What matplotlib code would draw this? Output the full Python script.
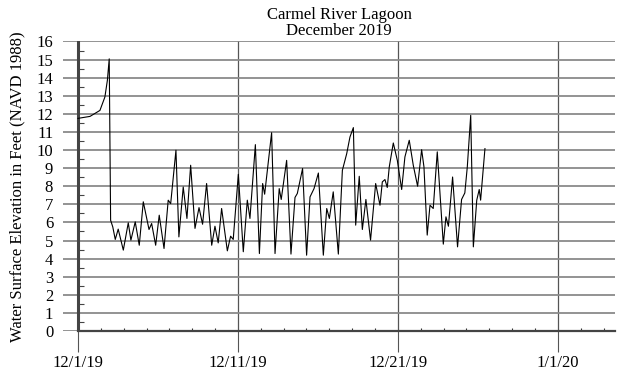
import numpy as np
import matplotlib.pyplot as plt
from matplotlib.ticker import MultipleLocator

plt.rcParams['font.family'] = ['Liberation Serif', 'DejaVu Serif']

# days since 12/1/19 and water surface elevation (ft, NAVD 1988)
days = [0.0, 0.78, 1.42, 1.74, 1.9, 2.02, 2.11, 2.25, 2.41, 2.6, 2.93, 3.25, 3.42, 3.7,
        3.96, 4.22, 4.59, 4.76, 5.02, 5.25, 5.56, 5.83, 5.99, 6.33, 6.52, 6.8, 7.04,
        7.28, 7.56, 7.82, 8.05, 8.31, 8.64, 8.85, 9.06, 9.28, 9.65, 9.86, 10.03,
        10.36, 10.68, 10.94, 11.11, 11.46, 11.72, 11.93, 12.06, 12.51, 12.73, 13.0,
        13.13, 13.48, 13.76, 14.02, 14.17, 14.51, 14.77, 14.99, 15.25, 15.53, 15.85,
        16.07, 16.24, 16.49, 16.82, 17.08, 17.36, 17.57, 17.79, 17.94, 18.17, 18.37,
        18.6, 18.9, 19.23, 19.51, 19.66, 19.83, 19.98, 20.11, 20.37, 20.63, 20.91,
        21.12, 21.4, 21.66, 21.94, 22.2, 22.35, 22.56, 22.74, 22.95, 23.21, 23.6,
        23.77, 23.93, 24.2, 24.52, 24.78, 24.99, 25.15, 25.37, 25.54, 25.76, 25.92,
        26.01, 26.29]
elev = [11.75, 11.86, 12.19, 12.93, 13.85, 15.04, 6.12, 5.75, 5.06, 5.63, 4.47, 5.98,
        5.02, 6.03, 4.74, 7.14, 5.61, 5.94, 4.74, 6.4, 4.56, 7.23, 7.04, 9.99, 5.2,
        7.96, 6.22, 9.16, 5.67, 6.82, 5.9, 8.15, 4.74, 5.79, 4.87, 6.77, 4.43, 5.24,
        5.06, 8.66, 4.38, 7.23, 6.22, 10.3, 4.28, 8.15, 7.56, 10.96, 4.28, 7.87, 7.27,
        9.43, 4.25, 7.38, 7.6, 8.98, 4.19, 7.41, 7.87, 8.73, 4.19, 6.77, 6.22, 7.69,
        4.25, 8.88, 9.8, 10.72, 11.24, 5.85, 8.55, 5.61, 7.27, 5.02, 8.15, 6.95, 8.24,
        8.37, 7.93, 9.07, 10.39, 9.43, 7.82, 9.62, 10.54, 9.16, 8.0, 10.02, 9.07, 5.3,
        6.95, 6.77, 9.9, 4.8, 6.31, 5.79, 8.51, 4.65, 7.27, 7.63, 9.07, 11.92, 4.65,
        7.23, 7.82, 7.23, 10.08]

tick_pos = [0, 31 / 3, 62 / 3, 31]
tick_labels = ['12/1/19', '12/11/19', '12/21/19', '1/1/20']

fig = plt.figure(figsize=(6.17, 3.77), dpi=100)
ax = fig.add_axes([0.102, 0.122, 0.895, 0.768])

ax.plot(days, elev, color='black', lw=0.8, zorder=3)

ax.set_xlim(-0.97, 34.7)
ax.set_ylim(0, 16)

# horizontal grid
ax.set_yticks(range(0, 17))
ax.yaxis.grid(True, color='#8a8a8a', lw=1.3)
ax.tick_params(axis='y', length=0, pad=7, labelsize=12)

# x ticks: long major ticks below axis, minor ticks inside
ax.set_xticks(tick_pos)
ax.set_xticklabels(tick_labels)
ax.xaxis.set_minor_locator(MultipleLocator(31 / 21))
ax.tick_params(axis='x', which='major', direction='out', length=15, width=0.8,
               color='#555555', pad=2, labelsize=12)
ax.tick_params(axis='x', which='minor', direction='in', length=2.5, width=0.8, color='#333333')
for t in tick_pos:
    ax.axvline(t, color='#555555', lw=0.9, zorder=1)

for s in ['top', 'right', 'left']:
    ax.spines[s].set_visible(False)
ax.spines['bottom'].set_bounds(0, 34.7)
ax.spines['bottom'].set_linewidth(1.6)
ax.spines['bottom'].set_color('#444444')

# y axis line at 12/1/19 with half-foot minor ticks
ax.axvline(0, color='#444444', lw=2.2, zorder=2)
sec = ax.secondary_yaxis((0 + 0.97) / (34.7 + 0.97))
sec.set_yticks([])
sec.set_yticks(np.arange(0.5, 16, 1), minor=True)
sec.tick_params(which='minor', direction='in', length=4, width=0.8, color='#444444')
sec.spines['left'].set_visible(False)

ax.set_ylabel('Water Surface Elevation in Feet (NAVD 1988)', fontsize=12, labelpad=8)
ax.set_title('Carmel River Lagoon\nDecember 2019', fontsize=12, linespacing=0.95, pad=5)

fig.savefig('out.png', dpi=100)
